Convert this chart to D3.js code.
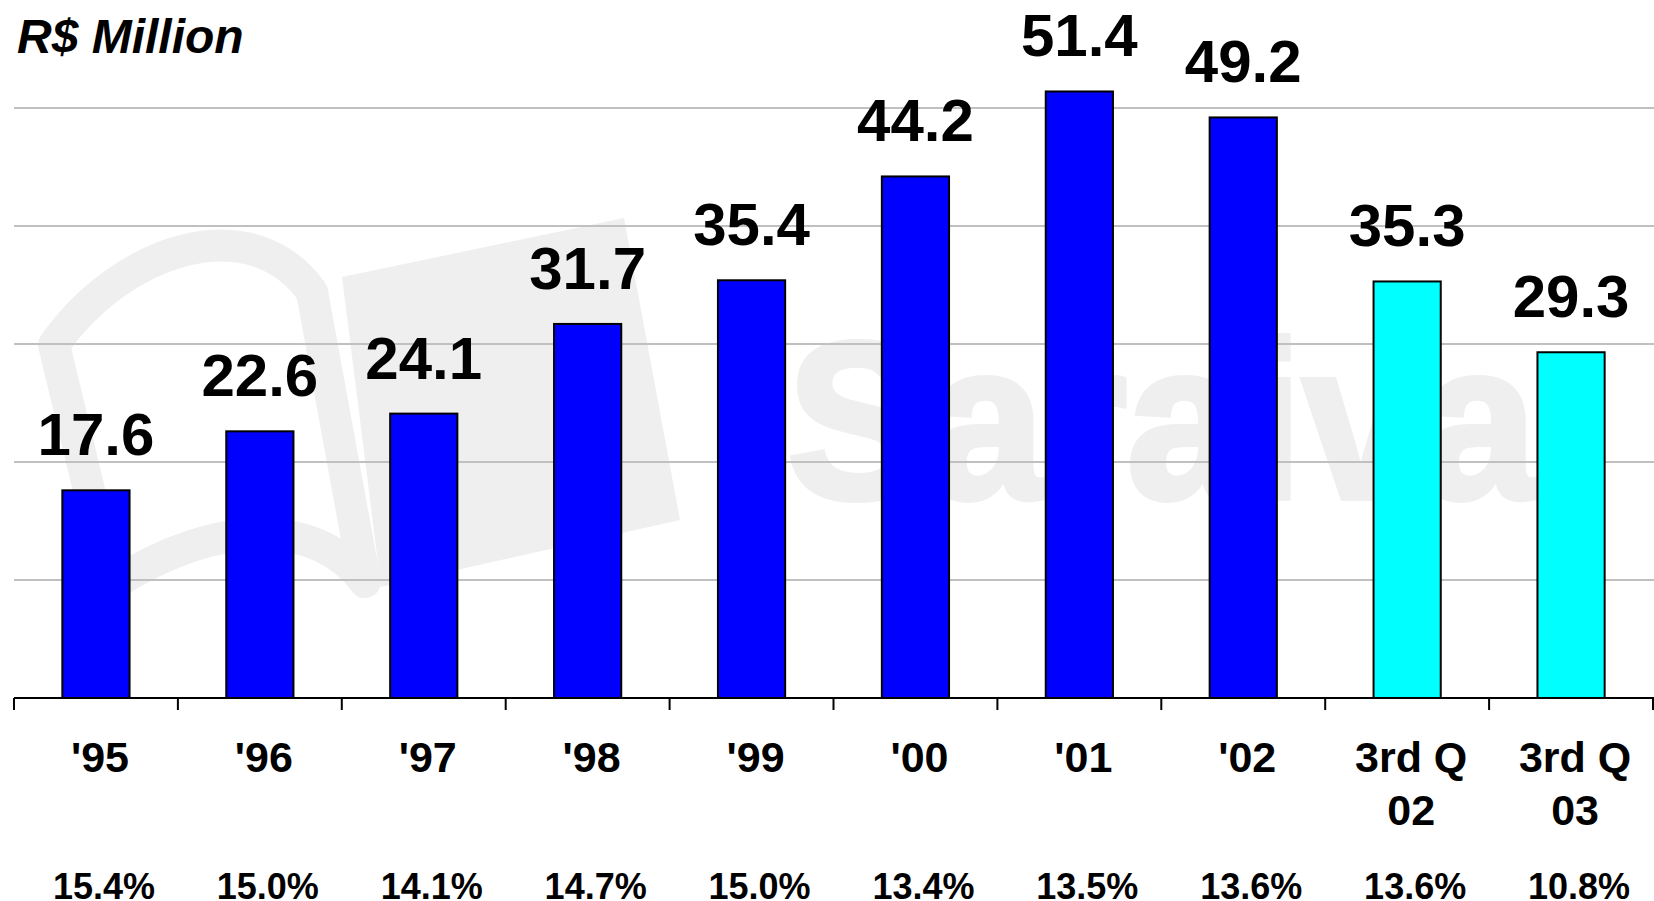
<!DOCTYPE html>
<html>
<head>
<meta charset="utf-8">
<script src="https://cdn.jsdelivr.net/npm/d3@7"></script>
<style>
  html, body { margin: 0; padding: 0; background: #fff; overflow: hidden; }
  svg { display: block; font-family: "Liberation Sans", Arial, sans-serif; }
</style>
</head>
<body>
<svg id="chart" width="1654" height="901"></svg>
<script>
// data
var categories = ["'95", "'96", "'97", "'98", "'99", "'00", "'01", "'02", "3rd Q\n02", "3rd Q\n03"];
var periodType = ["year", "year", "year", "year", "year", "year", "year", "year", "quarter", "quarter"];
var values = [17.6, 22.6, 24.1, 31.7, 35.4, 44.2, 51.4, 49.2, 35.3, 29.3];
var margins = ["15.4%", "15.0%", "14.1%", "14.7%", "15.0%", "13.4%", "13.5%", "13.6%", "13.6%", "10.8%"];
var gridTicks = [10, 20, 30, 40, 50];

var width = 1654, height = 901;
var left = 14, right = 1653, baseY = 698, topY = 108;

var svg = d3.select("#chart");

var x = d3.scaleBand()
    .domain(categories)
    .range([left, right])
    .paddingInner(0.59)
    .paddingOuter(0.295);

var y = d3.scaleLinear()
    .domain([0, 50])
    .range([baseY, topY]);

var color = d3.scaleOrdinal()
    .domain(["year", "quarter"])
    .range(["#0000ff", "#00ffff"]);

var step = x.step();
var center = function (d) { return x(d) + x.bandwidth() / 2; };

// *** watermark (faint logo behind everything) ***
var wm = svg.append("g").attr("class", "watermark");
wm.append("path")
    .attr("d", "M342,277 L624,218 L680,520 L381,587 Z")
    .attr("fill", "#efefef");
wm.append("path")
    .attr("d", "M54,345 C120,250 250,205 312,292 L365,582 C320,520 220,515 112,585 Z")
    .attr("fill", "none")
    .attr("stroke", "#efefef")
    .attr("stroke-width", 32)
    .attr("stroke-linejoin", "round");
wm.append("text")
    .attr("x", 787)
    .attr("y", 498)
    .attr("font-size", 222)
    .attr("font-weight", "bold")
    .attr("fill", "#efefef")
    .attr("stroke", "#efefef")
    .attr("stroke-width", 6)
    .attr("textLength", 750)
    .attr("lengthAdjust", "spacingAndGlyphs")
    .text("Saraiva");

// *** gridlines ***
svg.append("g")
    .selectAll("line")
    .data(gridTicks)
    .enter()
    .append("line")
    .attr("x1", left)
    .attr("x2", width)
    .attr("y1", function (d) { return y(d); })
    .attr("y2", function (d) { return y(d); })
    .attr("stroke", "#c0c0c0")
    .attr("stroke-width", 2);

// *** bars ***
svg.append("g")
    .selectAll("rect")
    .data(values)
    .enter()
    .append("rect")
    .attr("x", function (d, i) { return x(categories[i]); })
    .attr("y", function (d) { return y(d); })
    .attr("width", x.bandwidth())
    .attr("height", function (d) { return y(0) - y(d); })
    .attr("fill", function (d, i) { return color(periodType[i]); })
    .attr("stroke", "#000")
    .attr("stroke-width", 2);

// *** value labels ***
svg.append("g")
    .selectAll("text")
    .data(values)
    .enter()
    .append("text")
    .attr("x", function (d, i) { return center(categories[i]); })
    .attr("y", function (d) { return y(d) - 35; })
    .attr("text-anchor", "middle")
    .attr("font-size", 60)
    .attr("font-weight", "bold")
    .attr("fill", "#000")
    .text(function (d) { return d.toFixed(1); });

// *** x axis: baseline + ticks at band edges ***
svg.append("line")
    .attr("x1", left)
    .attr("x2", width)
    .attr("y1", baseY)
    .attr("y2", baseY)
    .attr("stroke", "#000")
    .attr("stroke-width", 2);

var edges = categories.map(function (d) { return center(d) - step / 2; });
edges.push(center(categories[categories.length - 1]) + step / 2);
svg.append("g")
    .selectAll("line")
    .data(edges)
    .enter()
    .append("line")
    .attr("x1", function (d) { return d; })
    .attr("x2", function (d) { return d; })
    .attr("y1", baseY)
    .attr("y2", baseY + 12)
    .attr("stroke", "#000")
    .attr("stroke-width", 2);

// category labels (may wrap onto two lines)
var catLabels = svg.append("g")
    .selectAll("text")
    .data(categories)
    .enter()
    .append("text")
    .attr("text-anchor", "middle")
    .attr("font-size", 43)
    .attr("font-weight", "bold")
    .attr("fill", "#000");

catLabels.each(function (d) {
    var t = d3.select(this);
    d.split("\n").forEach(function (line, k) {
        t.append("tspan")
            .attr("x", center(d) + 4)
            .attr("y", 772 + k * 53)
            .text(line);
    });
});

// margin row
svg.append("g")
    .selectAll("text")
    .data(margins)
    .enter()
    .append("text")
    .attr("x", function (d, i) { return center(categories[i]) + 8; })
    .attr("y", 899)
    .attr("text-anchor", "middle")
    .attr("font-size", 36)
    .attr("font-weight", "bold")
    .attr("fill", "#000")
    .text(function (d) { return d; });

// unit title
svg.append("text")
    .attr("x", 17)
    .attr("y", 53)
    .attr("font-size", 48)
    .attr("font-weight", "bold")
    .attr("font-style", "italic")
    .attr("fill", "#000")
    .text("R$ Million");
</script>
</body>
</html>
